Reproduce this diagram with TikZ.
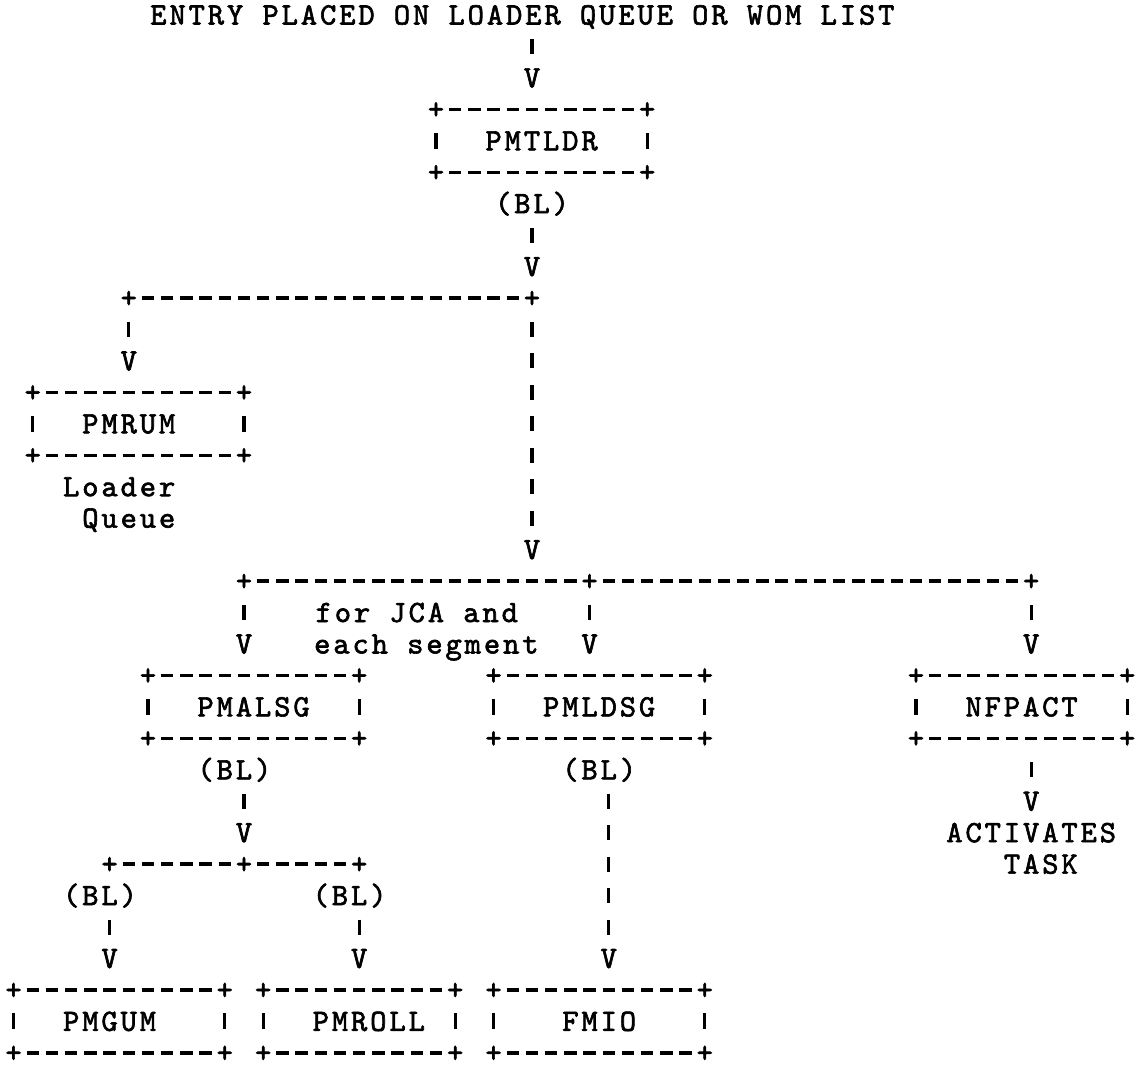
\documentclass[tikz,border=0pt]{standalone}
\usepackage{fontspec}
\newfontfamily\typewr{lmmono10-regular.otf}[LetterSpace=9.4,FakeBold=2]
\usepackage{tikz}
\usetikzlibrary{positioning,calc}
\newcommand\colsp{\hspace*{19.2pt}}

\begin{document}
\begin{tikzpicture}[x=19.2pt,y=-31.45pt,
  every node/.style={font=\typewr\fontsize{31}{31}\selectfont,inner sep=0pt,outer sep=0pt,text height=18.9pt,text depth=0pt},
  blk/.style={minimum height=62.9pt,minimum width=211.2pt},
  hline/.style={line width=3.4pt,dash pattern=on 12.5pt off 6.7pt,dash phase=12.5pt,shorten <=6.25pt,shorten >=6.25pt},
  vbar/.style={line width=3.2pt,dash pattern=on 15pt off 16.45pt,shorten <=23.95pt,shorten >=23.95pt},
  side/.style={line width=3.2pt}]
\useasboundingbox (-0.708,-0.477) rectangle (58.51,33.45);
% grid: one column per typed character, one row per typed line
\node (entry) at (26.5,0) {ENTRY PLACED ON LOADER QUEUE OR WOM LIST};
\node (v0) at (27,2) {V};
\node[blk] (pmtldr) at (27.5,4) {PMTLDR};
\node (bl0) at (27,6) {(BL)};
\node (v1) at (27,8) {V};
\node (j1a) at (6,9) {+};
\node (j1b) at (27,9) {+};
\node (v2) at (6,11) {V};
\node[blk] (pmrum) at (6.5,13) {PMRUM\colsp};
\node (loader) at (5.5,15) {Loader};
\node (queue) at (6,16) {Queue};
\node (v3) at (27,17) {V};
\node (j2a) at (12,18) {+};
\node (j2b) at (30,18) {+};
\node (j2c) at (53,18) {+};
\node (forjca) at (21,19) {for JCA and};
\node (eachseg) at (21.5,20) {each segment};
\node (v4) at (12,20) {V};
\node (v5) at (30,20) {V};
\node (v6) at (53,20) {V};
\node[blk] (pmalsg) at (12.5,22) {PMALSG};
\node[blk] (pmldsg) at (30.5,22) {PMLDSG};
\node[blk] (nfpact) at (52.5,22) {NFPACT};
\node (bl1) at (11.5,24) {(BL)};
\node (bl2) at (30.5,24) {(BL)};
\node (v7) at (53,25) {V};
\node (act) at (53,26) {ACTIVATES};
\node (task) at (53.5,27) {TASK};
\node (v8) at (12,26) {V};
\node (j3a) at (5,27) {+};
\node (j3b) at (12,27) {+};
\node (j3c) at (18,27) {+};
\node (bl3) at (4.5,28) {(BL)};
\node (bl4) at (17.5,28) {(BL)};
\node (v9) at (5,30) {V};
\node (v10) at (18,30) {V};
\node (v11) at (31,30) {V};
\node[blk] (pmgum) at (5.5,32) {PMGUM\colsp};
\node[blk,minimum width=192pt] (pmroll) at (18,32) {\colsp PMROLL};
\node[blk] (fmio) at (30.5,32) {FMIO};
% typed box frames
\foreach \b in {pmtldr,pmrum,pmalsg,pmldsg,nfpact,pmgum,pmroll,fmio} {
  \draw[hline] (\b.north west) -- (\b.north east);
  \draw[hline] (\b.south west) -- (\b.south east);
  \draw[side] ([yshift=8pt]\b.west) -- ([yshift=-8pt]\b.west);
  \draw[side] ([yshift=8pt]\b.east) -- ([yshift=-8pt]\b.east);
  \foreach \a/\s in {north west/nw,north east/ne,south west/sw,south east/se}
    \node (\b\s) at (\b.\a) {+};
}
% branch lines
\draw[hline] (j1a.center) -- (j1b.center);
\draw[hline] (j2a.center) -- (j2b.center);
\draw[hline] (j2b.center) -- (j2c.center);
\draw[hline] (j3a.center) -- (j3b.center);
\draw[hline] (j3b.center) -- (j3c.center);
% downward links
\draw[vbar] (v0 |- entry) -- (v0.center);
\draw[vbar] (bl0.center) -- (v1.center);
\draw[vbar] (j1a.center) -- (v2.center);
\draw[vbar] (j1b.center) -- (v3.center);
\draw[vbar] (j2a.center) -- (v4.center);
\draw[vbar] (j2b.center) -- (v5.center);
\draw[vbar] (j2c.center) -- (v6.center);
\draw[vbar] (v7 |- nfpact.south) -- (v7.center);
\draw[vbar] (v8 |- bl1) -- (v8.center);
\draw[vbar] (v9 |- bl3) -- (v9.center);
\draw[vbar] (v10 |- bl4) -- (v10.center);
\draw[vbar] (v11 |- bl2) -- (v11.center);
\end{tikzpicture}
\end{document}
